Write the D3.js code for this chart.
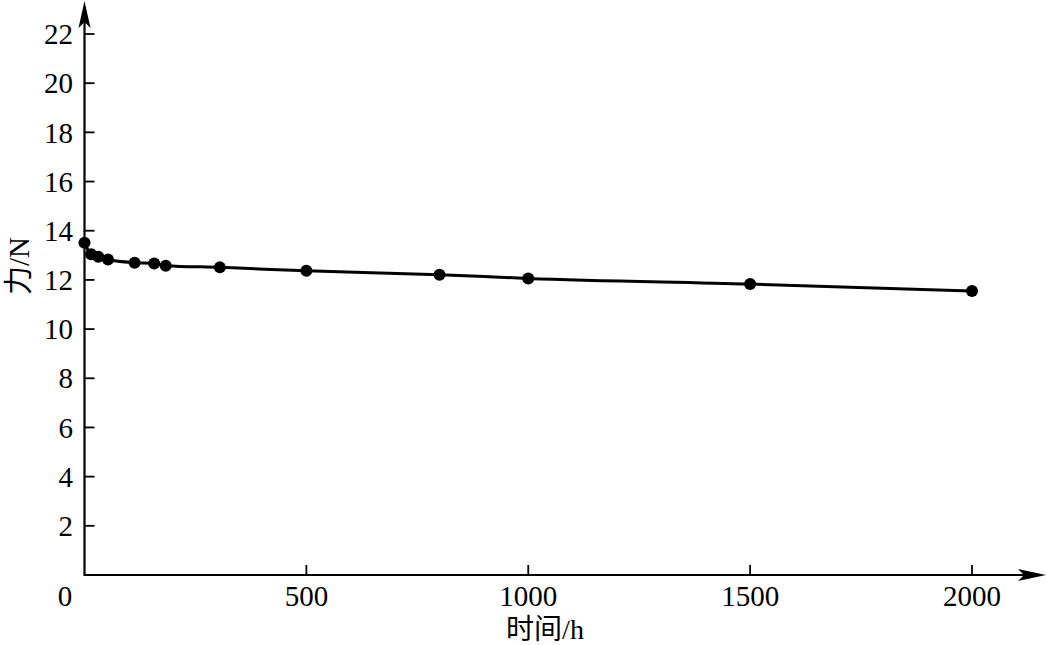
<!DOCTYPE html>
<html><head><meta charset="utf-8">
<script src="https://cdn.jsdelivr.net/npm/d3@7"></script>
<style>body{margin:0;background:#fff}svg{display:block}</style>
</head><body>
<script>
const times = [0, 15, 31, 53, 113, 157, 183, 305, 500, 800, 1000, 1500, 2000];
const forces = [13.51, 13.04, 12.94, 12.83, 12.70, 12.67, 12.58, 12.51, 12.37, 12.21, 12.06, 11.83, 11.55];
const xTicks = [500, 1000, 1500, 2000];
const yTicks = [2, 4, 6, 8, 10, 12, 14, 16, 18, 20, 22];
const xTitle = "时间/h";
const yTitle = "力/N";

const W = 1046, H = 645;
const svg = d3.select("body").append("svg").attr("width", W).attr("height", H);
const font = "'Liberation Serif','Times New Roman','Noto Sans CJK SC',serif";
const x = d3.scaleLinear().domain([0, 2000]).range([84.5, 972]);
const y = d3.scaleLinear().domain([0, 22]).range([575, 34]);

// axes lines
svg.append("line").attr("x1", x(0)).attr("x2", 1030).attr("y1", y(0)).attr("y2", y(0))
  .attr("stroke", "#000").attr("stroke-width", 2.2);
svg.append("line").attr("x1", x(0)).attr("x2", x(0)).attr("y1", y(0)+1).attr("y2", 14)
  .attr("stroke", "#000").attr("stroke-width", 2.2);
// arrows
svg.append("path").attr("d", `M1046,${y(0)} L1018,${y(0)-6} L1024,${y(0)} L1018,${y(0)+6} Z`).attr("fill", "#000");
svg.append("path").attr("d", `M${x(0)},1 L${x(0)-6},28 L${x(0)},22 L${x(0)+6},28 Z`).attr("fill", "#000");

// x ticks
const xg = svg.append("g");
xg.selectAll("line").data(xTicks).join("line")
  .attr("x1", d => x(d)).attr("x2", d => x(d)).attr("y1", y(0)).attr("y2", y(0) - 10)
  .attr("stroke", "#000").attr("stroke-width", 1.8);
xg.selectAll("text").data(xTicks).join("text")
  .attr("x", d => x(d)).attr("y", 606).attr("text-anchor", "middle")
  .attr("font-family", font).attr("font-size", 29).text(d => d);
svg.append("text").attr("x", 65).attr("y", 606).attr("text-anchor", "middle")
  .attr("font-family", font).attr("font-size", 29).text("0");

// y ticks
const yg = svg.append("g");
yg.selectAll("line").data(yTicks).join("line")
  .attr("x1", x(0)).attr("x2", x(0) + 10).attr("y1", d => y(d)).attr("y2", d => y(d))
  .attr("stroke", "#000").attr("stroke-width", 1.8);
yg.selectAll("text").data(yTicks).join("text")
  .attr("x", 73).attr("y", d => y(d)).attr("dy", "0.35em").attr("text-anchor", "end")
  .attr("font-family", font).attr("font-size", 29).text(d => d);

// titles
svg.append("text").attr("x", 545).attr("y", 639).attr("text-anchor", "middle")
  .attr("font-family", font).attr("font-size", 28).text(xTitle);
svg.append("text").attr("transform", "translate(29,266) rotate(-90)").attr("text-anchor", "middle")
  .attr("font-family", font).attr("font-size", 29).text(yTitle);

// line
const data = times.map((t, i) => ({t, f: forces[i]}));
svg.append("path").datum(data)
  .attr("d", d3.line().x(d => x(d.t)).y(d => y(d.f)).curve(d3.curveMonotoneX))
  .attr("fill", "none").attr("stroke", "#000").attr("stroke-width", 3);
svg.append("g").selectAll("circle").data(data).join("circle")
  .attr("cx", d => x(d.t)).attr("cy", d => y(d.f)).attr("r", 6).attr("fill", "#000");
</script>
</body></html>
